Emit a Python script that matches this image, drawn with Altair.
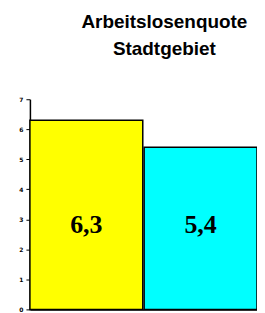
import altair as alt
import pandas as pd

categories = ["A", "B"]
values = [6.3, 5.4]
labels = ["6,3", "5,4"]
colors = ["#FFFF00", "#00FFFF"]
label_y = [2.8, 2.8]
y_ticks = [0, 1, 2, 3, 4, 5, 6, 7]

df = pd.DataFrame({"cat": categories, "val": values, "lab": labels, "ly": label_y})

y_axis = alt.Axis(values=y_ticks, title=None, grid=False, labelFontSize=6,
                  labelFontWeight="bold", labelOverlap=False,
                  labelColor="black", tickColor="black", tickSize=4, domainColor="black",
                  domainWidth=1.5, labelPadding=3, labelFont="DejaVu Sans")
x_axis = alt.Axis(labels=False, ticks=False, title=None, domainColor="black", domainWidth=1.5)
y_scale = alt.Scale(domain=[0, 7], nice=False)
x_scale = alt.Scale(paddingInner=0.012, paddingOuter=0)

bars = alt.Chart(df).mark_bar(stroke="black", strokeWidth=1.5).encode(
    x=alt.X("cat:N", scale=x_scale, axis=x_axis),
    y=alt.Y("val:Q", scale=y_scale, axis=y_axis),
    color=alt.Color("cat:N", scale=alt.Scale(domain=categories, range=colors), legend=None),
)

text = alt.Chart(df).mark_text(font="Liberation Serif", fontWeight="bold", fontSize=26, color="black",
                               baseline="middle").encode(
    x=alt.X("cat:N", scale=x_scale, axis=x_axis),
    y=alt.Y("ly:Q", scale=y_scale, axis=y_axis),
    text="lab:N",
)

chart = alt.layer(bars, text).properties(
    width=228, height=211,
    title=alt.TitleParams(["Arbeitslosenquote", "Stadtgebiet"], font="Liberation Sans", fontSize=19,
                          fontWeight="bold", color="black", lineHeight=28, anchor="middle", dx=21, offset=37),
    autosize=alt.AutoSizeParams(type="none"),
    padding={"left": 22, "top": 91, "right": 0, "bottom": 3},
).configure_view(stroke=None)

chart.save("out.html", embed_options={"renderer": "svg", "actions": False})
